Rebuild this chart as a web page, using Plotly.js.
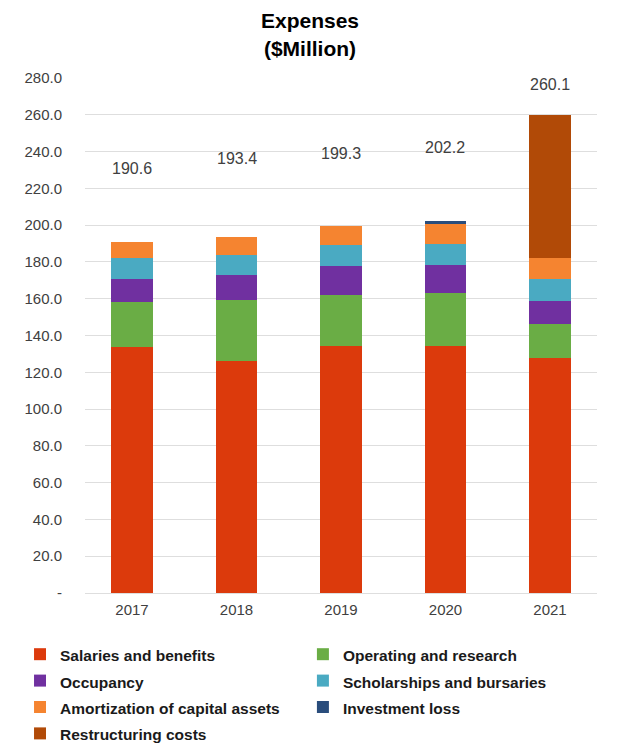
<!DOCTYPE html>
<html>
<head>
<meta charset="utf-8">
<script src="https://cdn.plot.ly/plotly-3.0.1.min.js"></script>
<style>html,body{margin:0;padding:0;background:#fff;}#chart{width:622px;height:747px;}</style>
</head>
<body>
<div id="chart"></div>
<script>
var years = ['2017', '2018', '2019', '2020', '2021'];
var salaries = [133.8, 126.0, 134.5, 134.5, 127.5];
var operating = [24.3, 33.2, 27.3, 28.7, 18.5];
var occupancy = [12.8, 13.5, 15.9, 15.4, 12.7];
var scholarships = [11.4, 10.9, 11.3, 11.3, 11.8];
var amortization = [8.3, 9.8, 10.3, 10.9, 11.4];
var investmentLoss = [0, 0, 0, 1.4, 0];
var restructuring = [0, 0, 0, 0, 78.2];
var totals = [190.6, 193.4, 199.3, 202.2, 260.1];
var totalLabels = ['190.6', '193.4', '199.3', '202.2', '260.1'];
var seriesNames = ['Salaries and benefits', 'Operating and research', 'Occupancy',
  'Scholarships and bursaries', 'Amortization of capital assets', 'Investment loss', 'Restructuring costs'];
var yTickVals = [0, 20, 40, 60, 80, 100, 120, 140, 160, 180, 200, 220, 240, 260, 280];
var yTickText = ['-', '20.0', '40.0', '60.0', '80.0', '100.0', '120.0', '140.0', '160.0', '180.0', '200.0', '220.0', '240.0', '260.0', '280.0'];

var labelShift = [74, 79, 73, 74, 30];
var seriesValues = [salaries, operating, occupancy, scholarships, amortization, investmentLoss, restructuring];
var seriesColors = ['#dc3a0c', '#6aad45', '#7030a0', '#4aaac2', '#f58430', '#2a4d7c', '#b14a07'];
var legendColumn = ['legend', 'legend2', 'legend', 'legend2', 'legend', 'legend2', 'legend'];

var traces = seriesNames.map(function (name, k) {
  return {
    type: 'bar', x: years, y: seriesValues[k],
    name: '<span style="font-size:15.5px">' + name + '</span>',
    legend: legendColumn[k],
    marker: {color: seriesColors[k], line: {width: 0}},
    hoverinfo: 'skip'
  };
});

var annotations = years.map(function (yr, i) {
  return {
    x: i, y: totals[i], xref: 'x', yref: 'y',
    text: totalLabels[i], showarrow: false, yshift: labelShift[i],
    font: {family: 'Liberation Sans, Arial, sans-serif', size: 16, color: '#404040'}
  };
});

var legendFont = {family: 'Liberation Sans, Arial, sans-serif', size: 18, color: '#1a1a1a', weight: 'bold'};

var layout = {
  width: 622, height: 747,
  paper_bgcolor: '#ffffff', plot_bgcolor: '#ffffff',
  barmode: 'stack', bargap: 0.6,
  margin: {l: 85, r: 25, t: 78, b: 154, autoexpand: false},
  title: {
    text: '<b>Expenses</b><br><b>($Million)</b>',
    x: 0.4984, xanchor: 'center', xref: 'container',
    y: 0.962, yanchor: 'top', yref: 'container', pad: {t: 0},
    font: {family: 'Liberation Sans, Arial, sans-serif', size: 21, color: '#000000'}
  },
  xaxis: {
    type: 'category', range: [-0.45, 4.45],
    showgrid: false, zeroline: false, showline: false, ticks: '',
    ticklabelstandoff: 6, tickangle: 0, automargin: false,
    tickfont: {family: 'Liberation Sans, Arial, sans-serif', size: 15, color: '#404040'},
    fixedrange: true
  },
  yaxis: {
    range: [0, 280], tickvals: yTickVals, ticktext: yTickText,
    showgrid: true, gridcolor: '#dedede', gridwidth: 1,
    zeroline: true, zerolinecolor: '#dedede', showline: false, ticks: '',
    ticklabelstandoff: 22, automargin: false,
    tickfont: {family: 'Liberation Sans, Arial, sans-serif', size: 15, color: '#404040'},
    fixedrange: true
  },
  showlegend: true,
  legend: {
    orientation: 'v', xref: 'container', yref: 'container',
    x: 0.0322, xanchor: 'left', y: 0.1486, yanchor: 'top',
    traceorder: 'normal', font: legendFont, bgcolor: 'rgba(0,0,0,0)'
  },
  legend2: {
    orientation: 'v', xref: 'container', yref: 'container',
    x: 0.487, xanchor: 'left', y: 0.1486, yanchor: 'top',
    traceorder: 'normal', font: legendFont, bgcolor: 'rgba(0,0,0,0)'
  },
  annotations: annotations
};

Plotly.newPlot('chart', traces, layout, {displayModeBar: false, staticPlot: true});
</script>
</body>
</html>
